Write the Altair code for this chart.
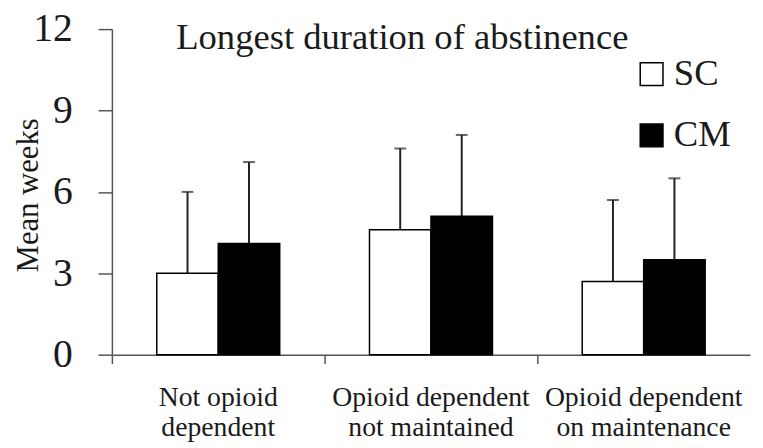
import altair as alt
import pandas as pd

categories = ["Not opioid\ndependent", "Opioid dependent\nnot maintained", "Opioid dependent\non maintenance"]
groups = ["SC", "CM"]
sc_mean = [3.0, 4.6, 2.7]
sc_upper = [6.0, 7.6, 5.7]
cm_mean = [4.1, 5.1, 3.5]
cm_upper = [7.1, 8.1, 6.5]
y_ticks = [0, 3, 6, 9, 12]

rows = []
for i, c in enumerate(categories):
    rows.append({"cat": c, "grp": "SC", "mean": sc_mean[i], "upper": sc_upper[i]})
    rows.append({"cat": c, "grp": "CM", "mean": cm_mean[i], "upper": cm_upper[i]})
df = pd.DataFrame(rows)

FONT = "Liberation Serif"
TXT = "#1a1a1a"
AX = "#555555"
W, H = 645, 329

x_enc = alt.X(
    "cat:N", sort=categories,
    scale=alt.Scale(paddingInner=0, paddingOuter=0),
    axis=alt.Axis(title=None, labelAngle=0, bandPosition=0,
                  labelExpr="split(datum.label, '\\n')", labelFont=FONT, labelFontSize=28,
                  labelLineHeight=31, labelColor=TXT, labelPadding=20, tickSize=9,
                  domainColor=AX, tickColor=AX, labelBaseline="top", labelOverlap=False,
                  labelLimit=0, domainWidth=1.5, tickWidth=1.5),
)
xoff = alt.XOffset("grp:N", sort=groups, scale=alt.Scale(paddingInner=0, paddingOuter=0.73))

y_axis = alt.Axis(values=y_ticks, title="Mean weeks", grid=False, tickSize=14, labelPadding=26,
                  labelFont=FONT, labelFontSize=40, labelColor=TXT, titleFont=FONT,
                  titleFontSize=31, titleFontWeight="normal", titleColor=TXT, titleX=-75,
                  titleY=H / 2 + 3, titleAngle=270, titleBaseline="alphabetic", titleAlign="center",
                  domainColor=AX, tickColor=AX, domainWidth=1.5, tickWidth=1.5)
y_scale = alt.Scale(domain=[0, 12])

base = alt.Chart(df)

bars = base.mark_bar(stroke="black", strokeWidth=1.5).encode(
    x=x_enc, xOffset=xoff,
    y=alt.Y("mean:Q", scale=y_scale, axis=y_axis),
    fill=alt.Fill("grp:N", sort=groups, title=None,
                  scale=alt.Scale(domain=groups, range=["white", "black"]),
                  legend=alt.Legend(orient="none", legendX=527, legendY=27, symbolType="square",
                                    symbolSize=529, symbolStrokeColor="black", symbolStrokeWidth=1.5,
                                    labelFont=FONT, labelFontSize=37, labelColor=TXT, labelOffset=4,
                                    rowPadding=24, padding=0, symbolOffset=0)),
)

rules = base.mark_rule(color="#222222", strokeWidth=2).encode(
    x=x_enc, xOffset=xoff,
    y=alt.Y("mean:Q", scale=y_scale, axis=y_axis),
    y2="upper:Q",
)

caps = base.mark_tick(color="#222222", thickness=2, size=12).encode(
    x=x_enc, xOffset=xoff,
    y=alt.Y("upper:Q", scale=y_scale, axis=y_axis),
)

chart = alt.layer(rules, bars, caps).properties(
    width=W, height=H,
    padding={"left": 105, "top": 19, "right": 5, "bottom": 92},
    autosize=alt.AutoSizeParams(type="none"),
    title=alt.TitleParams("Longest duration of abstinence", anchor="start", frame="group",
                          dx=65, offset=-48),
).configure_view(strokeWidth=0).configure_title(
    font=FONT, fontSize=37, fontWeight="normal", color=TXT
).configure_axis(
    labelFont=FONT, titleFont=FONT
).configure_legend(
    labelFont=FONT
)

chart.save("out.html", embed_options={"renderer": "svg", "actions": False})
